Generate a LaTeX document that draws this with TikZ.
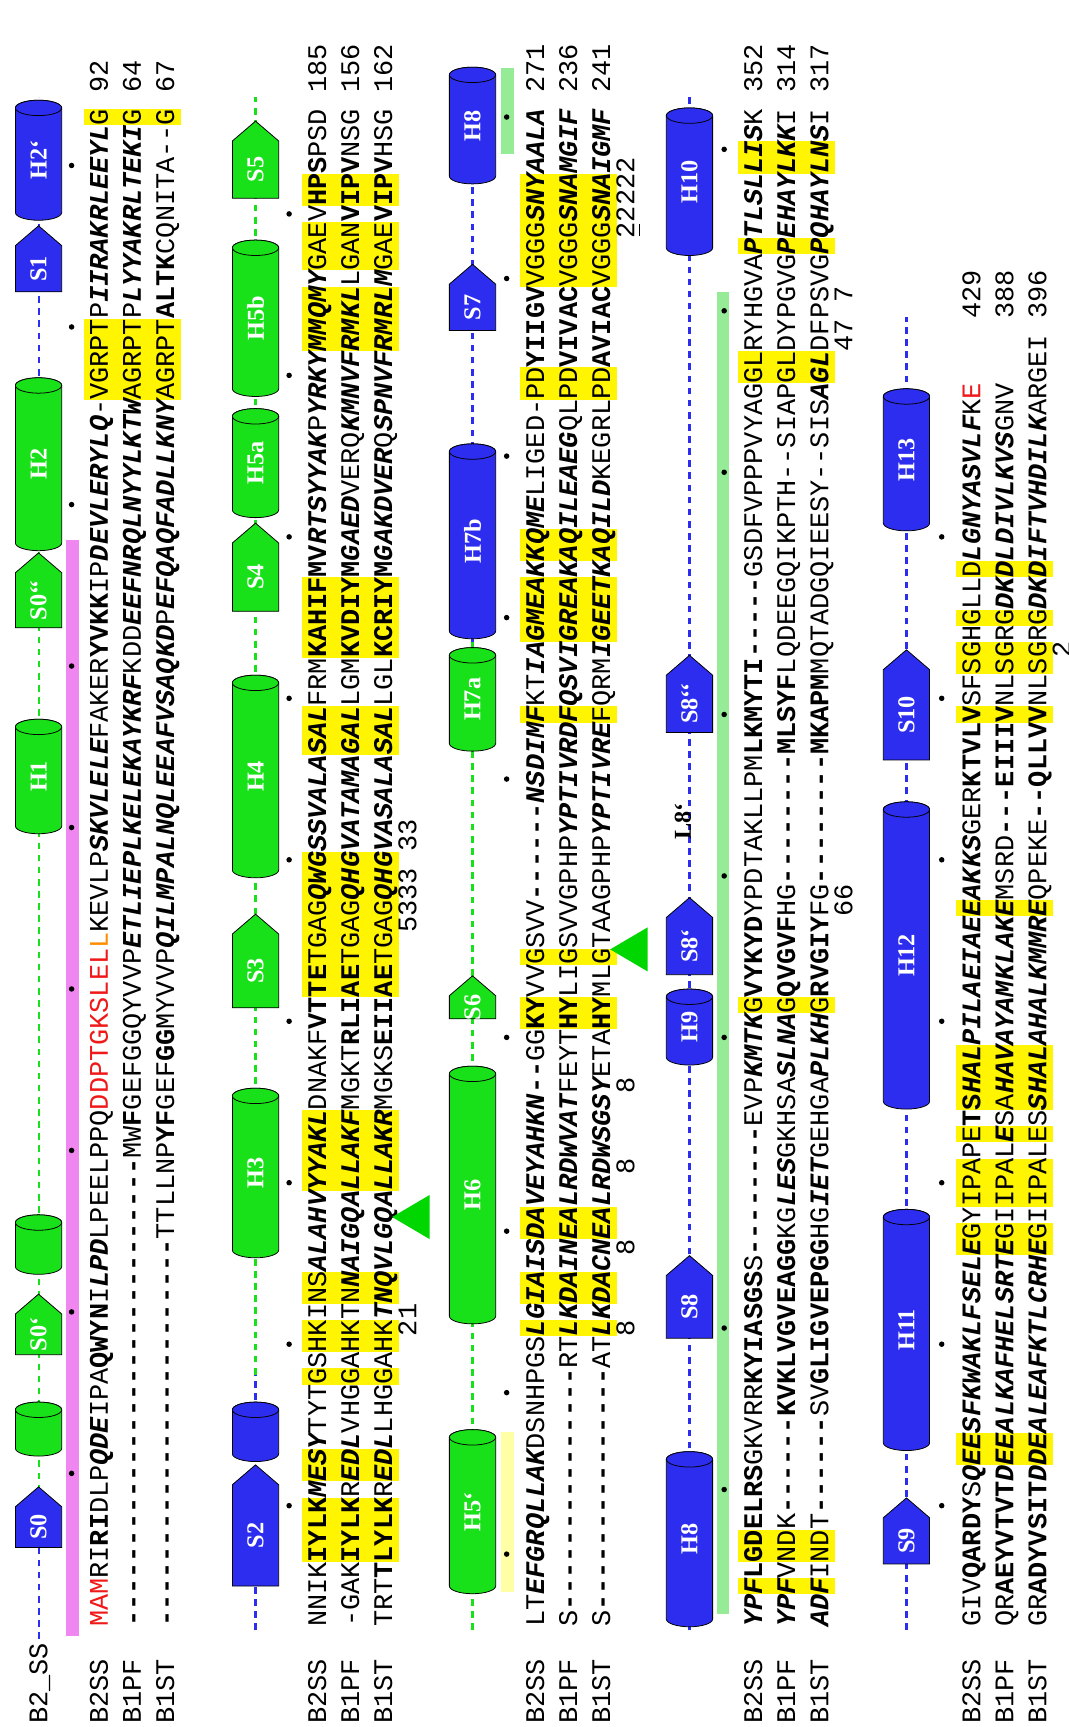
\documentclass[tikz,border=0pt]{standalone}
\usepackage{fontspec}
\setmonofont{Liberation Mono}
\newfontfamily\lblfont{Liberation Serif}
\definecolor{ssgreen}{RGB}{25,225,25}
\definecolor{ssblue}{RGB}{45,45,240}
\definecolor{hly}{RGB}{255,245,0}
\definecolor{pinkbar}{RGB}{240,135,240}
\definecolor{lgreen}{RGB}{150,235,150}
\definecolor{lyellow}{RGB}{255,255,165}
\definecolor{seqred}{RGB}{240,25,25}
\definecolor{seqorange}{RGB}{255,140,0}
\definecolor{trig}{RGB}{0,215,0}
\newcommand\sB[1]{{\bfseries #1}}
\newcommand\sI[1]{{\bfseries\itshape #1}}
\newcommand\sR[1]{{\color{seqred}#1}}
\newcommand\sO[1]{{\color{seqorange}#1}}
\tikzset{
 seqtxt/.style={font=\ttfamily\fontsize{24.43}{26}\selectfont, anchor=base west, inner sep=0pt, outer sep=0pt},
 lbl/.style={font=\lblfont\bfseries\fontsize{22}{22}\selectfont, text=white, inner sep=0pt},
 ssline/.style={draw=black, line width=0.7pt},
 dblue/.style={ssblue, line width=1.9pt, dash pattern=on 6pt off 5pt},
 dgreen/.style={ssgreen, line width=1.9pt, dash pattern=on 6pt off 5pt}
}
\newcommand\seqrow[4]{\node[seqtxt] (#1l) at (3,#2) {#3};\node[seqtxt] (#1s) at (91,#2) {#4};}
\newcommand\numat[4]{\node[seqtxt] (#1) at ({91+#2*14.66},#3) {#4};}
\newcommand\hl[3]{\fill[hly] ({91+#2*14.66},{-76-198*#1}) rectangle ({91+(#3+1)*14.66},{-164-198*#1});}
\newcommand\ssdots[2]{\foreach \dc in {#2}{\fill ({91+(\dc+0.5)*14.66},{-65-197.5*#1}) circle[radius=2.5];}}
\newcommand\sscyl[6]{%
\filldraw[fill=#1,ssline] (#3,#5-21) -- (#4,#5-21) arc[start angle=-90,end angle=90,x radius=7,y radius=21] -- (#3,#5+21) arc[start angle=90,end angle=270,x radius=7,y radius=21] -- cycle;
\filldraw[fill=#1,ssline] (#4,#5) ellipse[x radius=7,y radius=21];
\node[lbl] (#2) at ({(#3+#4)/2},#5) {#6};}
\newcommand\ssstrand[6]{%
\filldraw[fill=#1,ssline] (#3,#5-21) -- (#4-18,#5-21) -- (#4,#5) -- (#4-18,#5+21) -- (#3,#5+21) -- cycle;
\node[lbl] (#2) at ({(#3+#4-18)/2},#5) {#6};}
\begin{document}
\begin{tikzpicture}[x=1pt,y=1pt]
\fill[white] (0,0) rectangle (970,1568);
\useasboundingbox (0,0) rectangle (970,1568);
\begin{scope}[rotate=90, transform shape]
% bars
\fill[pinkbar] (83,-60) rectangle (1078,-72);
\fill[lyellow] (123,-455) rectangle (268,-467);
\fill[lgreen] (1428,-455) rectangle (1506,-467);
\fill[lgreen] (103,-651) rectangle (1303,-662);
% highlights
\hl{0}{76}{80}\hl{0}{93}{93}
\hl{1}{4}{7}\hl{1}{9}{10}\hl{1}{15}{15}\hl{1}{17}{18}\hl{1}{20}{21}\hl{1}{27}{31}\hl{1}{39}{47}\hl{1}{54}{56}\hl{1}{60}{64}\hl{1}{79}{82}\hl{1}{84}{86}\hl{1}{88}{89}
\hl{2}{18}{18}\hl{2}{20}{21}\hl{2}{24}{25}\hl{2}{37}{38}\hl{2}{41}{41}\hl{2}{56}{56}\hl{2}{61}{64}\hl{2}{66}{67}\hl{2}{76}{77}\hl{2}{83}{89}
\hl{3}{2}{2}\hl{3}{4}{5}\hl{3}{38}{38}\hl{3}{77}{78}\hl{3}{85}{85}\hl{3}{90}{91}
\hl{4}{10}{11}\hl{4}{23}{24}\hl{4}{26}{28}\hl{4}{30}{30}\hl{4}{32}{35}\hl{4}{44}{44}\hl{4}{56}{56}\hl{4}{59}{60}\hl{4}{62}{62}\hl{4}{65}{65}
% dashed SS lines
\draw[dblue] (80,-35) -- (170,-35);
\draw[dgreen] (170,-35) -- (1150,-35);
\draw[dblue] (1150,-35) -- (1480,-35);
\draw[dblue] (88,-232) -- (320,-232);
\draw[dgreen] (320,-232) -- (1480,-232);
\draw[dgreen] (88,-429) -- (985,-429);
\draw[dblue] (985,-429) -- (1480,-429);
\draw[dblue] (88,-626) -- (1480,-626);
\draw[dblue] (88,-823) -- (1280,-823);
% block 1 shapes
\ssstrand{ssblue}{s0}{163}{218}{-35}{S0}
\sscyl{ssgreen}{c1a}{253}{288}{-35}{}
\ssstrand{ssgreen}{s0p}{338}{393}{-35}{S0‘}
\sscyl{ssgreen}{c1b}{418}{458}{-35}{}
\sscyl{ssgreen}{h1}{818}{908}{-35}{H1}
\ssstrand{ssgreen}{s0pp}{998}{1066}{-35}{S0‘‘}
\sscyl{ssgreen}{h2}{1075}{1218}{-35}{H2}
\ssstrand{ssblue}{s1}{1303}{1363}{-35}{S1}
\sscyl{ssblue}{h2p}{1375}{1470}{-35}{H2‘}
% block 2 shapes
\ssstrand{ssblue}{s2}{128}{238}{-232}{S2}
\sscyl{ssblue}{c2a}{248}{288}{-232}{}
\sscyl{ssgreen}{h3}{433}{573}{-232}{H3}
\ssstrand{ssgreen}{s3}{653}{738}{-232}{S3}
\sscyl{ssgreen}{h4}{778}{948}{-232}{H4}
\ssstrand{ssgreen}{s4}{1013}{1093}{-232}{S4}
\sscyl{ssgreen}{h5a}{1105}{1190}{-232}{H5a}
\sscyl{ssgreen}{h5b}{1215}{1343}{-232}{H5b}
\ssstrand{ssgreen}{s5}{1388}{1458}{-232}{S5}
% block 3 shapes
\sscyl{ssgreen}{h5p}{128}{263}{-429}{H5‘}
\sscyl{ssgreen}{h6}{373}{593}{-429}{H6}
\ssstrand{ssgreen}{s6}{643}{682}{-429}{S6}
\sscyl{ssgreen}{h7a}{893}{973}{-429}{H7a}
\sscyl{ssblue}{h7b}{995}{1158}{-429}{H7b}
\ssstrand{ssblue}{s7}{1268}{1328}{-429}{S7}
\sscyl{ssblue}{h8a}{1408}{1500}{-429}{H8}
% block 4 shapes
\sscyl{ssblue}{h8b}{98}{243}{-626}{H8}
\ssstrand{ssblue}{s8}{353}{428}{-626}{S8}
\sscyl{ssblue}{h9}{608}{663}{-626}{H9}
\ssstrand{ssblue}{s8p}{683}{753}{-626}{S8‘}
\node[font=\lblfont\bfseries\fontsize{22}{22}\selectfont, inner sep=0pt] (l8p) at (822,-620) {L8‘};
\ssstrand{ssblue}{s8pp}{903}{973}{-626}{S8‘‘}
\sscyl{ssblue}{h10}{1343}{1463}{-626}{H10}
% block 5 shapes
\ssstrand{ssblue}{s9}{148}{208}{-823}{S9}
\sscyl{ssblue}{h11}{258}{463}{-823}{H11}
\sscyl{ssblue}{h12}{568}{833}{-823}{H12}
\ssstrand{ssblue}{s10}{878}{978}{-823}{S10}
\sscyl{ssblue}{h13}{1093}{1208}{-823}{H13}
% dots
\ssdots{0}{9,19,29,39,49,59,69,80,90}
\ssdots{1}{7,17,27,37,47,57,67,77,87}
\ssdots{2}{4,14,24,36,52,62,72,83,93}
\ssdots{3}{8,18,36,46,56,71,81,91}
\ssdots{4}{7,17,27,37,47,57,67}
% labels
\node[seqtxt] (ssl) at (3,-43) {B2\_SS};
% block 1
\seqrow{ra}{-98}{B2SS}{\sR{MAM}RI\sB{RI}DLP\sI{QDE}IPA\sB{QWYN}I\sI{LPD}LPEELPPQ\sR{DDPTGKSLEL}\sO{L}KEVLP\sI{SKVLELE}FAKER\sB{YVKK}IP\sI{DEVLERYLQ}-VGRPTP\sI{IIRAKRLEEYL}G}
\seqrow{rb}{-128}{B1PF}{\sB{-----------------------------}MW\sB{F}GEFGGQYVVP\sI{ETLIEPLKELEKAYKRF}KDD\sI{EEFNRQLNYYLKTW}AGRPTP\sI{LYYAKRLTEKI}G}
\seqrow{rc}{-158}{B1ST}{\sB{------------------------}TTLLNP\sB{YF}GEF\sB{GG}MYVVP\sI{QILMPALNQLEEAFVSAQKD}P\sI{EFQAQFADLLKNY}AGRPT\sB{ALTK}CQNITA--G}
\numat{ran}{95}{-98}{92}\numat{rbn}{95}{-128}{64}\numat{rcn}{95}{-158}{67}
% block 2
\seqrow{rd}{-296}{B2SS}{NNIK\sB{IYLK}\sI{MESY}TYTGSHKINS\sI{ALAHVYYAKL}DNAKF\sB{VTTE}TGAG\sI{QWGSSVALASAL}FRM\sB{KAHIFMV}\sI{RTSYYAK}P\sI{YRKYMMQMY}GAEV\sB{HPS}PSD}
\seqrow{re}{-326}{B1PF}{-GAK\sB{IYLK}R\sI{EDL}VHGGAHKTN\sI{NAIGQALLAKF}MGKT\sB{RLIAE}TGAG\sI{QHGVATAMAGAL}LGM\sB{KVDIYM}\sI{GAED}VERQ\sI{KMNVFRMKL}LGAN\sB{VIPV}NSG}
\seqrow{rf}{-356}{B1ST}{TRT\sB{TLYLK}R\sI{EDL}LHGGAHK\sI{TNQVLGQALLAKR}MGKS\sB{EIIAE}TGAG\sI{QHGVASALASAL}LGL\sB{KCRIYM}\sI{GAKDVER}Q\sI{SPNVFRMRLM}GAE\sB{VIPV}HSG}
\numat{rdn}{95}{-296}{185}\numat{ren}{95}{-326}{156}\numat{rfn}{95}{-356}{162}
\numat{d21}{18}{-378}{21}\numat{d5333}{43}{-378}{5333 33}
% block 3
\seqrow{rg}{-494}{B2SS}{LT\sI{EFGRQLLAK}DSNHPGS\sI{LGIAISDAVEYAHKN}\sB{--}GG\sB{KY}VVGSVV\sB{------}\sI{NSDIMF}KT\sI{IAGMEAKKQME}LIGED-PD\sB{YIIGV}VGGG\sI{SNYAALA}}
\seqrow{rh}{-524}{B1PF}{S\sB{---------------}RT\sI{LKDAINEALRDWVAT}FEYT\sB{HY}LIGSVVGPHP\sI{YPTIVRDFQSVIGREAKAQILEAEG}QLPD\sB{VIVAC}VGGG\sI{SNAMGIF}}
\seqrow{ri}{-554}{B1ST}{S\sB{---------------}AT\sI{LKDACNEALRDWSGSY}ETA\sB{HY}MLGTAAGPHP\sI{YPTIVRE}FQRM\sI{IGEETKAQILD}KEGRLPD\sB{AVIAC}VGGG\sI{SNAIGMF}}
\numat{rgn}{95}{-494}{271}\numat{rhn}{95}{-524}{236}\numat{rin}{95}{-554}{241}
\numat{e1}{18}{-576}{8}\numat{e2}{23}{-576}{8}\numat{e3}{28}{-576}{8}\numat{e4}{33}{-576}{8}
\numat{e5}{86}{-576}{22222}
\draw[line width=1pt] ({91+86*14.66+2},-581) -- ({91+87*14.66-2},-581);
% block 4
\seqrow{rj}{-692}{B2SS}{\sI{YPF}\sB{LGDELRS}GKVRR\sB{KYIASGS}S\sB{--------}EVP\sI{KMTK}G\sB{VYKYD}YPDTAKLLPM\sB{LKMYTI}\sB{-----}GSDFVPPPVYAGGLRYHGVA\sI{PTLSLLIS}K}
\seqrow{rk}{-722}{B1PF}{\sI{YPF}VNDK\sB{------}\sB{KVKLVGVEAGG}KG\sI{LES}GKHSA\sI{SLNA}G\sB{QVGVF}HG\sB{--------}\sB{MLSYF}LQDEEGQIKPTH--SIAPGLDYPGVG\sI{PEHAYLKK}I}
\seqrow{rl}{-752}{B1ST}{\sI{ADF}INDT\sB{------}SV\sB{GLIGVEPGG}HG\sI{IET}GEHGA\sI{PLKH}G\sB{RVGIY}FG\sB{--------}\sB{MKAPM}MQTADGQIEESY--SIS\sI{AGL}DFPSVG\sI{PQHAYLNS}I}
\numat{rjn}{95}{-692}{352}\numat{rkn}{95}{-722}{314}\numat{rln}{95}{-752}{317}
\numat{f66}{44}{-774}{66}\numat{f477}{79}{-774}{47 7}
% block 5
\seqrow{rm}{-890}{B2SS}{GIV\sB{QARDY}S\sI{QEESFKWAKLFSELE}GYIPAPE\sB{TS}\sI{HALPILAEIAEEAKKS}GER\sB{KTVLV}SFSGHGLLD\sI{LGNYASVLF}K\sR{E}}
\seqrow{rn}{-920}{B1PF}{QR\sB{AEYVTVT}\sI{DEEALKAFHELSRTE}GIIPAL\sI{E}SA\sI{HAVAYAMKLAKE}MSRD\sB{---}\sB{EIIIV}NLSGRG\sI{DKDLDIVLKVS}GNV}
\seqrow{ro}{-950}{B1ST}{GR\sB{ADYVSIT}\sI{DDEALEAFKTLCRHE}GIIPALES\sI{SHALAHALKMMRE}QPEKE\sB{--}\sB{QLLVV}NLSGRG\sI{DKDIFTVHDILK}ARGEI}
\numat{rmn}{81}{-890}{429}\numat{rnn}{81}{-920}{388}\numat{ron}{81}{-950}{396}
\numat{g2}{60}{-972}{2}
% triangles
\fill[trig] (443,-390) -- (463,-356) -- (483,-390) -- cycle;
\fill[trig] (686,-588) -- (706,-554) -- (726,-588) -- cycle;
\end{scope}
\end{tikzpicture}
\end{document}
